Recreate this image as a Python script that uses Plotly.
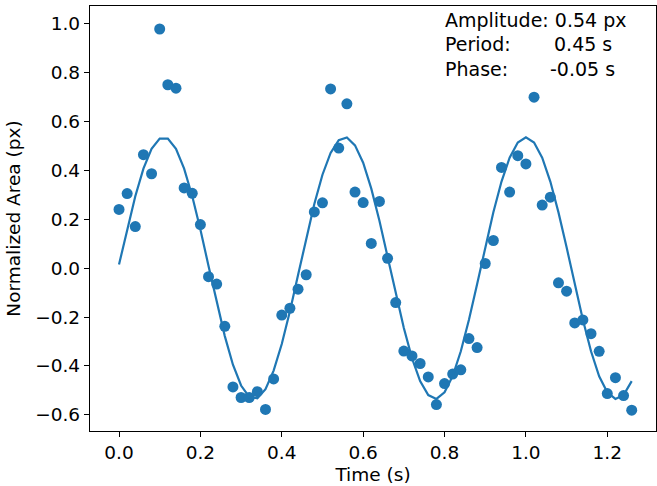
import plotly.graph_objects as go

# Time samples (s)
time_s = [0.00, 0.02, 0.04, 0.06, 0.08, 0.10, 0.12, 0.14, 0.16, 0.18,
          0.20, 0.22, 0.24, 0.26, 0.28, 0.30, 0.32, 0.34, 0.36, 0.38,
          0.40, 0.42, 0.44, 0.46, 0.48, 0.50, 0.52, 0.54, 0.56, 0.58,
          0.60, 0.62, 0.64, 0.66, 0.68, 0.70, 0.72, 0.74, 0.76, 0.78,
          0.80, 0.82, 0.84, 0.86, 0.88, 0.90, 0.92, 0.94, 0.96, 0.98,
          1.00, 1.02, 1.04, 1.06, 1.08, 1.10, 1.12, 1.14, 1.16, 1.18,
          1.20, 1.22, 1.24, 1.26]

# Measured normalized area (px)
measured_area = [0.240, 0.305, 0.170, 0.464, 0.386, 0.978, 0.750, 0.736, 0.328, 0.306,
                 0.178, -0.035, -0.065, -0.238, -0.486, -0.529, -0.529, -0.505, -0.578, -0.453,
                 -0.192, -0.164, -0.086, -0.027, 0.230, 0.267, 0.733, 0.491, 0.672, 0.311,
                 0.268, 0.101, 0.273, 0.040, -0.141, -0.339, -0.359, -0.390, -0.445, -0.558,
                 -0.472, -0.433, -0.416, -0.288, -0.325, 0.019, 0.113, 0.412, 0.311, 0.460,
                 0.426, 0.699, 0.258, 0.290, -0.060, -0.094, -0.224, -0.212, -0.268, -0.340,
                 -0.513, -0.448, -0.521, -0.581]

# Fitted sine curve values (px)
fit_area = [0.015, 0.158, 0.294, 0.407, 0.488, 0.530, 0.530, 0.488, 0.407, 0.294,
            0.158, 0.009, -0.140, -0.278, -0.395, -0.480, -0.527, -0.532, -0.495, -0.419,
            -0.310, -0.176, -0.028, 0.122, 0.262, 0.382, 0.471, 0.523, 0.534, 0.502,
            0.431, 0.325, 0.194, 0.047, -0.103, -0.245, -0.368, -0.462, -0.519, -0.535,
            -0.508, -0.441, -0.340, -0.211, -0.066, 0.085, 0.229, 0.354, 0.452, 0.514,
            0.535, 0.514, 0.452, 0.354, 0.228, 0.085, -0.066, -0.211, -0.340, -0.442,
            -0.508, -0.535, -0.519, -0.462]

x_ticks = [0.0, 0.2, 0.4, 0.6, 0.8, 1.0, 1.2]
y_ticks = [-0.6, -0.4, -0.2, 0.0, 0.2, 0.4, 0.6, 0.8, 1.0]

fit_labels = ["Amplitude: 0.54 px", "Period:", "Phase:"]
fit_values = ["", "0.45 s", "-0.05 s"]

BLUE = "#1f77b4"
FONT = "DejaVu Sans"

fig = go.Figure()
fig.add_trace(go.Scatter(x=time_s, y=measured_area, mode="markers",
                         marker=dict(color=BLUE, size=11, line=dict(width=0)),
                         showlegend=False))
fig.add_trace(go.Scatter(x=time_s, y=fit_area, mode="lines",
                         line=dict(color=BLUE, width=2.2),
                         showlegend=False))

label_y = [1.013, 0.915, 0.813]
value_x = [None, 1.064, 1.054]
for i, lab in enumerate(fit_labels):
    fig.add_annotation(x=0.796, y=label_y[i], xref="x", yref="y", text=lab,
                       showarrow=False, xanchor="left", yanchor="middle",
                       font=dict(family=FONT, size=19, color="black"))
    if fit_values[i]:
        fig.add_annotation(x=value_x[i], y=label_y[i], xref="x", yref="y",
                           text=fit_values[i], showarrow=False,
                           xanchor="left", yanchor="middle",
                           font=dict(family=FONT, size=19, color="black"))

axis_common = dict(showline=True, linecolor="black", linewidth=1.3, mirror=True,
                   showgrid=False, zeroline=False, ticks="outside", ticklen=5,
                   tickwidth=1.3, tickcolor="black",
                   tickfont=dict(family=FONT, size=18.5, color="black"))

fig.update_xaxes(range=[-0.0713, 1.3197], tickvals=x_ticks, tickformat=".1f",
                 title=dict(text="Time (s)", font=dict(family=FONT, size=18.5, color="black"),
                            standoff=5),
                 **axis_common)
fig.update_yaxes(range=[-0.666, 1.072], tickvals=y_ticks, tickformat=".1f",
                 title=dict(text="Normalized Area (px)",
                            font=dict(family=FONT, size=18.5, color="black"), standoff=9),
                 **axis_common)

fig.update_layout(width=657, height=486, margin=dict(l=90, r=1, t=6, b=55),
                  plot_bgcolor="white", paper_bgcolor="white",
                  font=dict(family=FONT, size=18.5, color="black"))

fig.write_html("out.html")
